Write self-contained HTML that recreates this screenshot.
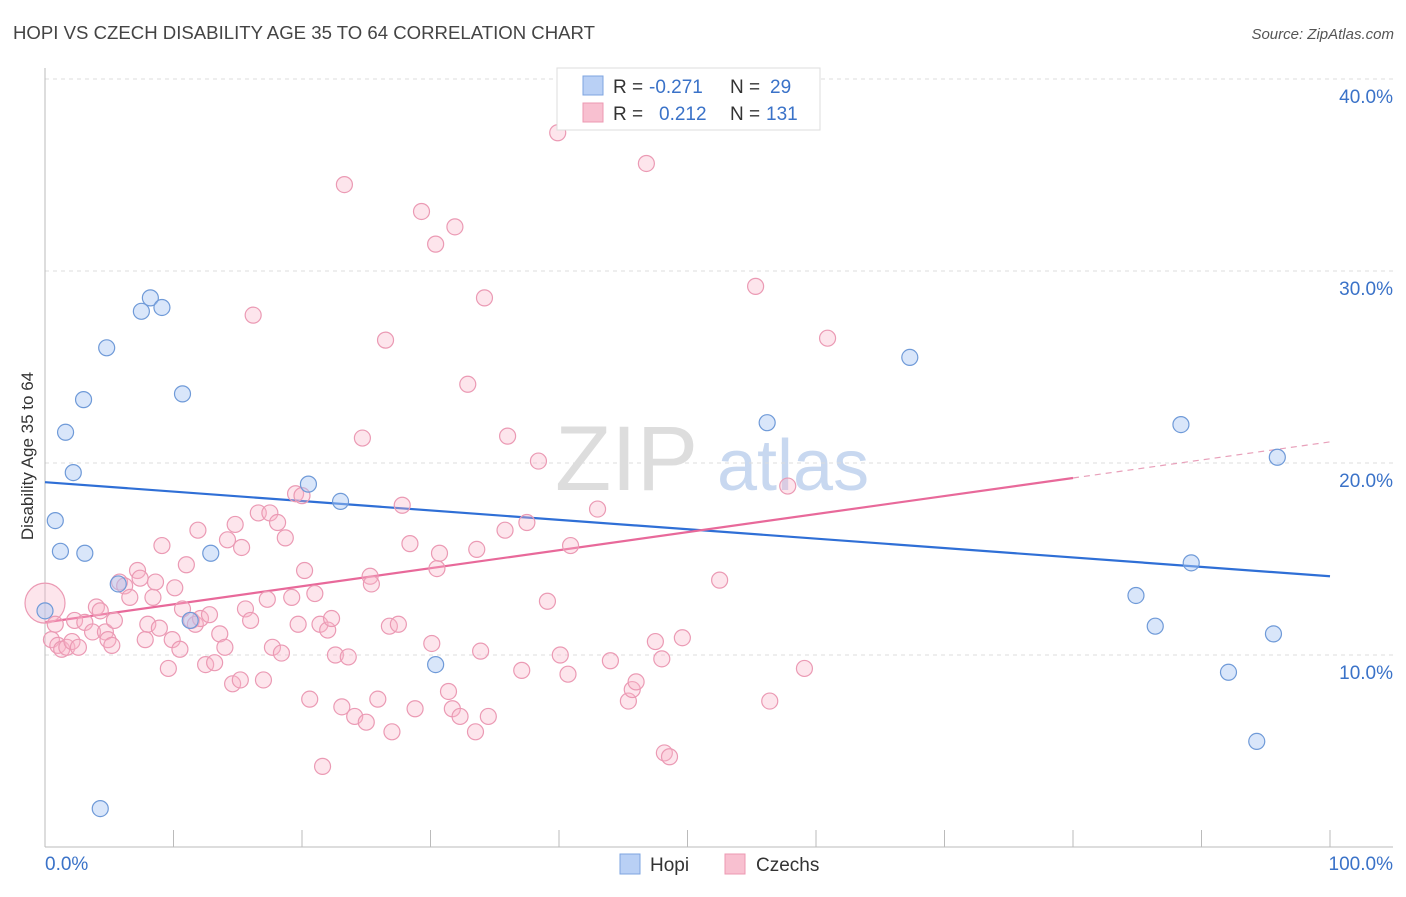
<!DOCTYPE html>
<html><head><meta charset="utf-8"><style>
body{margin:0;background:#fff;font-family:"Liberation Sans",sans-serif;}
svg text{font-family:"Liberation Sans",sans-serif;}
</style></head><body>
<svg id="chart" width="1406" height="892" viewBox="0 0 1406 892">
<text x="13" y="39" font-size="18" fill="#444" textLength="582" lengthAdjust="spacingAndGlyphs">HOPI VS CZECH DISABILITY AGE 35 TO 64 CORRELATION CHART</text>
<text x="1394" y="39" font-size="15" fill="#555" font-style="italic" text-anchor="end">Source: ZipAtlas.com</text>
<g>
<text x="555" y="490" font-size="92" font-family="Liberation Serif" fill="#ddd">ZIP</text>
<text x="717" y="490" font-size="72" fill="#c8d8f0">atlas</text>
</g>
<text transform="translate(33,456) rotate(-90)" font-size="17" fill="#333" text-anchor="middle">Disability Age 35 to 64</text>
<g id="grid"></g><g id="axes"></g><g id="lines"></g><g id="pts"></g>
<g>
<rect x="557" y="68" width="263" height="62" fill="#fff" stroke="#ddd"/>
<rect x="583" y="76" width="20" height="19" fill="#b9d0f5" stroke="#7ea4e0"/>
<rect x="583" y="103" width="20" height="19" fill="#f8c0d0" stroke="#ec98b2"/>
<text x="613" y="93" font-size="19" fill="#333">R =</text>
<text x="649" y="93" font-size="19" fill="#3a72c8">-0.271</text>
<text x="730" y="93" font-size="19" fill="#333">N =</text>
<text x="770" y="93" font-size="19" fill="#3a72c8">29</text>
<text x="613" y="120" font-size="19" fill="#333">R =</text>
<text x="659" y="120" font-size="19" fill="#3a72c8">0.212</text>
<text x="730" y="120" font-size="19" fill="#333">N =</text>
<text x="766" y="120" font-size="19" fill="#3a72c8">131</text>
</g>
<g>
<rect x="620" y="854" width="20" height="20" fill="#b9d0f5" stroke="#7ea4e0"/>
<text x="650" y="871" font-size="19" fill="#333">Hopi</text>
<rect x="725" y="854" width="20" height="20" fill="#f8c0d0" stroke="#ec98b2"/>
<text x="756" y="871" font-size="19" fill="#333">Czechs</text>
</g>
</svg>
<script>
const yTicks=[10,20,30,40];
const yTickLabels=["10.0%","20.0%","30.0%","40.0%"];
const hopiX=[0,0.8,1.2,1.6,2.2,3.0,3.1,4.3,4.8,5.7,7.5,8.2,9.1,10.7,11.3,12.9,20.5,23.0,30.4,56.2,67.3,84.9,86.4,88.4,89.2,92.1,94.3,95.6,95.9];
const hopiY=[12.3,17.0,15.4,21.6,19.5,23.3,15.3,2.0,26.0,13.7,27.9,28.6,28.1,23.6,11.8,15.3,18.9,18.0,9.5,22.1,25.5,13.1,11.5,22.0,14.8,9.1,5.5,11.1,20.3];
const czX=[0,0.5,1.0,1.3,1.7,2.1,2.6,0.8,2.3,3.1,3.7,4.0,4.3,4.7,4.9,5.2,5.4,5.8,6.2,6.6,7.2,7.4,7.8,8.0,8.4,8.6,8.9,9.1,9.6,9.9,10.1,10.5,10.7,11.0,11.4,11.7,11.9,12.1,12.5,12.8,13.2,13.6,14.0,14.2,14.6,14.8,15.2,15.3,15.6,16.0,16.2,16.6,17.0,17.3,17.5,17.7,18.1,18.4,18.7,19.2,19.5,19.7,20.0,20.2,20.6,21.0,21.4,21.6,22.0,22.3,22.6,23.1,23.3,23.6,24.1,24.7,25.0,25.3,25.4,25.9,26.5,26.8,27.0,27.5,27.8,28.4,28.8,29.3,30.1,30.4,30.5,30.7,31.4,31.7,31.9,32.3,32.9,33.5,33.6,33.9,34.2,34.5,35.8,36.0,37.1,37.5,38.4,39.1,39.9,40.1,40.7,40.9,43.0,44.0,45.4,45.7,46.0,46.8,47.5,48.0,48.2,48.6,49.6,52.5,55.3,56.4,57.8,59.1,60.9];
const czY=[12.7,10.8,10.5,10.3,10.4,10.7,10.4,11.6,11.8,11.7,11.2,12.5,12.3,11.2,10.8,10.5,11.8,13.8,13.6,13.0,14.4,14.0,10.8,11.6,13.0,13.8,11.4,15.7,9.3,10.8,13.5,10.3,12.4,14.7,11.8,11.6,16.5,11.9,9.5,12.1,9.6,11.1,10.4,16.0,8.5,16.8,8.7,15.6,12.4,11.8,27.7,17.4,8.7,12.9,17.4,10.4,16.9,10.1,16.1,13.0,18.4,11.6,18.3,14.4,7.7,13.2,11.6,4.2,11.3,11.9,10.0,7.3,34.5,9.9,6.8,21.3,6.5,14.1,13.7,7.7,26.4,11.5,6.0,11.6,17.8,15.8,7.2,33.1,10.6,31.4,14.5,15.3,8.1,7.2,32.3,6.8,24.1,6.0,15.5,10.2,28.6,6.8,16.5,21.4,9.2,16.9,20.1,12.8,37.2,10.0,9.0,15.7,17.6,9.7,7.6,8.2,8.6,35.6,10.7,9.8,4.9,4.7,10.9,13.9,29.2,7.6,18.8,9.3,26.5];
const hopiTrend=[19.0,14.1];
const czTrend=[11.7,21.1];
const czSolidEnd=80;
const NS="http://www.w3.org/2000/svg";
const sx=v=>45+v*12.85, sy=v=>847-v*19.2;
function mk(t,a,p){const e=document.createElementNS(NS,t);for(const k in a)e.setAttribute(k,a[k]);p.appendChild(e);return e;}
const grid=document.getElementById('grid'),axes=document.getElementById('axes'),lines=document.getElementById('lines'),pts=document.getElementById('pts');
yTicks.forEach((v,i)=>{
 const l=mk('line',{x1:45,x2:1393,y1:sy(v),y2:sy(v),stroke:'#ddd','stroke-dasharray':'4,4'},grid);
 
 
 const t=mk('text',{x:1393,y:sy(v)+24,'font-size':19,fill:'#3a72c8','text-anchor':'end'},grid);
 t.textContent=yTickLabels[i];
 
 
});
const ax=mk('line',{x1:45,x2:1393,y1:847,y2:847,stroke:'#bbb'},axes);


const ay=mk('line',{x1:45,x2:45,y1:68,y2:847,stroke:'#bbb'},axes);


for(let i=0;i<=10;i++){const tk=mk('line',{x1:sx(i*10),x2:sx(i*10),y1:830,y2:847,stroke:'#bbb'},axes);
 
 }
[["0.0%",45,'start'],["100.0%",1393,'end']].forEach(d=>{const t=mk('text',{x:d[1],y:870,'font-size':19,fill:'#3a72c8','text-anchor':d[2]},axes);t.textContent=d[0];
 
 });
function dot(x,y,fill,stroke,r,name){const c=mk('circle',{cx:sx(x),cy:sy(y),r:r,fill:fill,stroke:stroke,'stroke-width':1.2},pts);
 
 }
czX.forEach((x,i)=>dot(x,czY[i],'rgba(248,180,200,0.35)','#eb9ab4',i==0?20:8,'czech-point'));
hopiX.forEach((x,i)=>dot(x,hopiY[i],'rgba(170,200,245,0.45)','#6f9ad8',8,'hopi-point'));
const hl=mk('line',{x1:sx(0),y1:sy(hopiTrend[0]),x2:sx(100),y2:sy(hopiTrend[1]),stroke:'#2f6fd6','stroke-width':2.2},lines);


const cm=czTrend[0]+(czTrend[1]-czTrend[0])*czSolidEnd/100;
const cl=mk('line',{x1:sx(0),y1:sy(czTrend[0]),x2:sx(czSolidEnd),y2:sy(cm),stroke:'#e8699a','stroke-width':2.2},lines);


const cd=mk('line',{x1:sx(czSolidEnd),y1:sy(cm),x2:sx(100),y2:sy(czTrend[1]),stroke:'#e8a0ba','stroke-width':1.2,'stroke-dasharray':'6,5'},lines);


</script>
</body></html>
